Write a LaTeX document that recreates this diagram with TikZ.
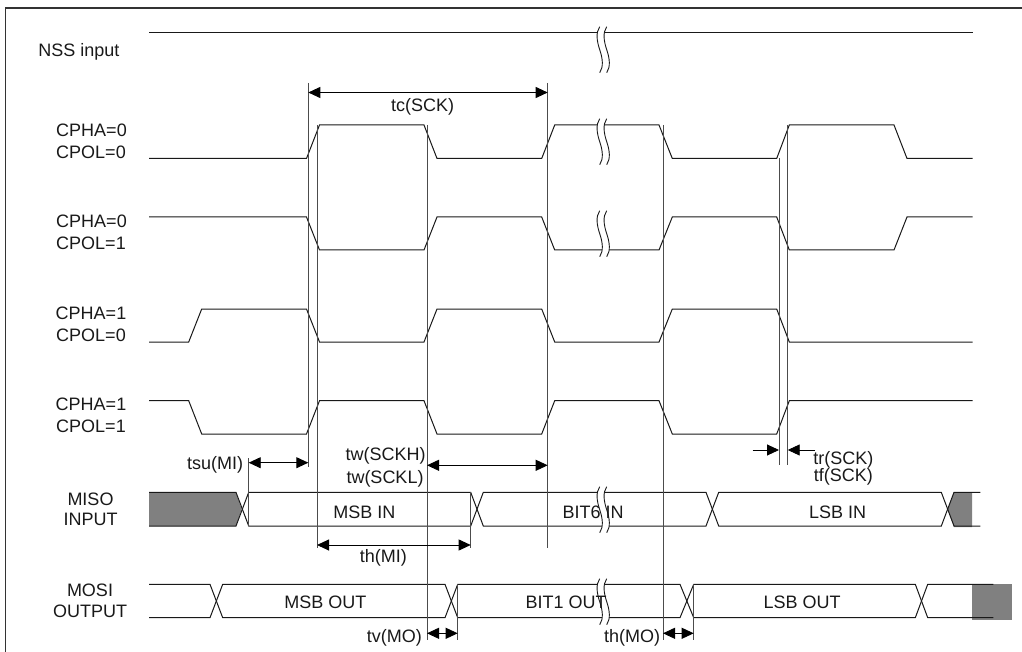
\documentclass[tikz,border=0pt]{standalone}
\usepackage{fontspec}
\setmainfont{Liberation Sans}
\usetikzlibrary{arrows.meta}
\tikzset{
  wave/.style={line width=1pt,draw=black!90,line join=miter},
  guide/.style={line width=1pt,draw=black!70},
  frameline/.style={line width=1.6pt,draw=black!80},
  dim/.style={line width=0.9pt,draw=black,{Stealth[length=12pt,width=11pt,inset=0pt]}-{Stealth[length=12pt,width=11pt,inset=0pt]},shorten >=0pt,shorten <=0pt},
  dimone/.style={line width=0.9pt,draw=black,-{Stealth[length=12pt,width=11pt,inset=0pt]}},
  lbl/.style={font=\fontsize{18}{18}\selectfont,inner sep=0pt,text height=13pt,text depth=0pt,anchor=center,text=black!90},
  shade/.style={fill=black!50,draw=none},
  brkline/.style={line width=0.9pt,draw=black!90}
}
\newcommand{\brk}[2]{%
  \fill[white,shift={(#1,#2)}] (0,0) .. controls (-4,6) and (-3,14) .. (0,23) .. controls (3,32) and (4,40) .. (0,46) -- (7,46) .. controls (11,40) and (10,32) .. (7,23) .. controls (4,14) and (3,6) .. (7,0) -- cycle;
  \draw[brkline,shift={(#1,#2)}] (0,0) .. controls (-4,6) and (-3,14) .. (0,23) .. controls (3,32) and (4,40) .. (0,46);
  \draw[brkline,shift={(#1,#2)}] (7,0) .. controls (3,6) and (4,14) .. (7,23) .. controls (10,32) and (11,40) .. (7,46);
}
\begin{document}
\begin{tikzpicture}[x=1pt,y=-1pt]
\useasboundingbox (0,0) rectangle (1022,652);
% frame
\draw[frameline] (5.5,652) -- (5.5,8) -- (1022,8);
% shaded regions
\fill[shade] (149,493) -- (236,493) -- (241.7,509) -- (236,526) -- (149,526) -- cycle;
\fill[shade] (947.6,509) -- (954,492.5) -- (972,492.5) -- (972,527) -- (954,527) -- cycle;
\fill[shade] (972,584) rectangle (1012,619.5);
% named guide coordinates
\coordinate (gA) at (308.3,83);
\coordinate (gAb) at (308.3,466.7);
\coordinate (gB) at (317,125);
\coordinate (gBb) at (317,547.7);
\coordinate (gC) at (427,125);
\coordinate (gCb) at (427,640);
\coordinate (gD) at (547.7,83);
\coordinate (gDb) at (547.7,547.7);
\coordinate (gE) at (663,125);
\coordinate (gEb) at (663,640);
\coordinate (gF) at (779,158);
\coordinate (gFb) at (779,465);
\coordinate (gG) at (787.7,125);
\coordinate (gGb) at (787.7,465);
\coordinate (gH) at (248.7,458);
\coordinate (gHb) at (248.7,526);
\coordinate (gI) at (470.7,492);
\coordinate (gIb) at (470.7,547.7);
\coordinate (gJ) at (457.7,584);
\coordinate (gJb) at (457.7,640);
\coordinate (gK) at (693.7,584);
\coordinate (gKb) at (693.7,640);
% waves
\draw[wave] (149,33) -- (972.7,33);
\def\yl{158.5}\def\yh{125}
\draw[wave] (149,\yl) -- (306.5,\yl) -- (319.5,\yh) -- (424,\yh) -- (437,\yl) -- (541.7,\yl) -- (554.7,\yh) -- (659,\yh) -- (672.3,\yl) -- (776.7,\yl) -- (789.3,\yh) -- (894,\yh) -- (907,\yl) -- (972.7,\yl);
\def\yl{250}\def\yh{217}
\draw[wave] (149,\yh) -- (306.5,\yh) -- (319.5,\yl) -- (424,\yl) -- (437,\yh) -- (541.7,\yh) -- (554.7,\yl) -- (659,\yl) -- (672.3,\yh) -- (776.7,\yh) -- (789.3,\yl) -- (894,\yl) -- (907,\yh) -- (972.7,\yh);
\def\yl{342}\def\yh{309}
\draw[wave] (149,\yl) -- (188.7,\yl) -- (201.7,\yh) -- (306.5,\yh) -- (319.5,\yl) -- (424,\yl) -- (437,\yh) -- (541.7,\yh) -- (554.7,\yl) -- (659,\yl) -- (672.3,\yh) -- (776.7,\yh) -- (789.3,\yl) -- (972.7,\yl);
\def\yl{434}\def\yh{400.7}
\draw[wave] (149,\yh) -- (188.7,\yh) -- (201.7,\yl) -- (306.5,\yl) -- (319.5,\yh) -- (424,\yh) -- (437,\yl) -- (541.7,\yl) -- (554.7,\yh) -- (659,\yh) -- (672.3,\yl) -- (776.7,\yl) -- (789.3,\yh) -- (972.7,\yh);
% MISO
\def\yt{492.3}\def\yb{526}
\draw[wave] (149,\yt) -- (236,\yt) -- (248.7,\yb) -- (470.7,\yb) -- (483.3,\yt) -- (706,\yt) -- (718.7,\yb) -- (941.3,\yb) -- (954,\yt) -- (980.3,\yt);
\draw[wave] (149,\yb) -- (236,\yb) -- (248.7,\yt) -- (470.7,\yt) -- (483.3,\yb) -- (706,\yb) -- (718.7,\yt) -- (941.3,\yt) -- (954,\yb) -- (980.3,\yb);
% MOSI
\def\yt{584.3}\def\yb{617.7}
\draw[wave] (149,\yt) -- (210,\yt) -- (222.7,\yb) -- (445,\yb) -- (457.7,\yt) -- (680,\yt) -- (693.7,\yb) -- (915.3,\yb) -- (927.7,\yt) -- (993.3,\yt);
\draw[wave] (149,\yb) -- (210,\yb) -- (222.7,\yt) -- (445,\yt) -- (457.7,\yb) -- (680,\yb) -- (693.7,\yt) -- (915.3,\yt) -- (927.7,\yb) -- (993.3,\yb);
% breaks
\brk{599.7}{26.7}
\brk{599.7}{118.7}
\brk{599.7}{210.7}
\brk{599.7}{486.7}
\brk{599.7}{578.7}
% labels
\node[lbl] (nss) at (79,50) {NSS input};
\node[lbl] (a1) at (91.5,130) {CPHA=0};
\node[lbl] (a2) at (91,152) {CPOL=0};
\node[lbl] (b1) at (91.5,221) {CPHA=0};
\node[lbl] (b2) at (91,243) {CPOL=1};
\node[lbl] (c1) at (91,313) {CPHA=1};
\node[lbl] (c2) at (91,335) {CPOL=0};
\node[lbl] (d1) at (91,403.7) {CPHA=1};
\node[lbl] (d2) at (91,425.7) {CPOL=1};
\node[lbl] (miso) at (90.5,498.7) {MISO};
\node[lbl] (misoi) at (90.5,519) {INPUT};
\node[lbl] (mosi) at (90,589.7) {MOSI};
\node[lbl] (mosio) at (90,611) {OUTPUT};
\node[lbl] (tc) at (422.7,105) {tc(SCK)};
\node[lbl] (tsu) at (215,462.5) {tsu(MI)};
\node[lbl] (twh) at (385.7,454) {tw(SCKH)};
\node[lbl] (twl) at (385,477) {tw(SCKL)};
\node[lbl] (thmi) at (383.3,556) {th(MI)};
\node[lbl] (tvmo) at (394.3,636) {tv(MO)};
\node[lbl] (thmo) at (632,636) {th(MO)};
\node[lbl] (tr) at (843.3,458) {tr(SCK)};
\node[lbl] (tf) at (843.3,475) {tf(SCK)};
\node[lbl] (msbin) at (364.3,511.7) {MSB IN};
\node[lbl] (bit6) at (593,511.7) {BIT6 IN};
\node[lbl] (lsbin) at (837.7,511.7) {LSB IN};
\node[lbl] (msbout) at (325.3,602) {MSB OUT};
\node[lbl] (bit1) at (566,602) {BIT1 OUT};
\node[lbl] (lsbout) at (802,602) {LSB OUT};
% guides
\draw[guide] (gA) -- (gAb);
\draw[guide] (gB) -- (gBb);
\draw[guide] (gC) -- (gCb);
\draw[guide] (gD) -- (gDb);
\draw[guide] (gE) -- (gEb);
\draw[guide] (gF) -- (gFb);
\draw[guide] (gG) -- (gGb);
\draw[guide] (gH) -- (gHb);
\draw[guide] (gI) -- (gIb);
\draw[guide] (gJ) -- (gJb);
\draw[guide] (gK) -- (gKb);
% dimension arrows
\draw[dim] (308.3,92.5) -- (547.7,92.5);
\draw[dim] (248.7,462.7) -- (308.3,462.7);
\draw[dim] (427,465.3) -- (547.7,465.3);
\draw[dim] (317,545) -- (470.7,545);
\draw[dim] (427,633.3) -- (457.7,633.3);
\draw[dim] (663,633.3) -- (693.7,633.3);
\coordinate (trs) at (752.7,450);
\coordinate (tre) at (779,450);
\coordinate (tfs) at (815,450);
\coordinate (tfe) at (787.7,450);
\draw[dimone] (trs) -- (tre);
\draw[dimone] (tfs) -- (tfe);
\end{tikzpicture}
\end{document}
